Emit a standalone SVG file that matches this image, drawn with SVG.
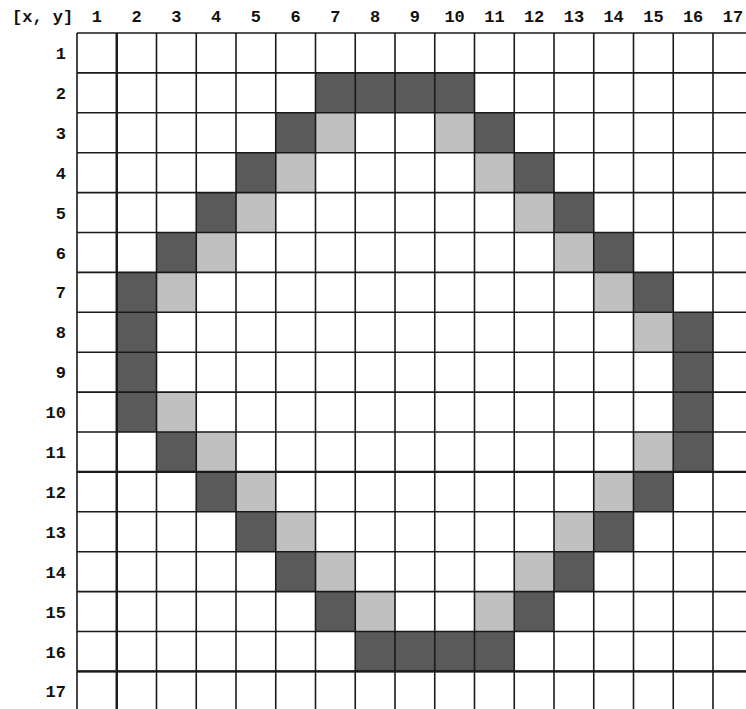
<svg xmlns="http://www.w3.org/2000/svg" width="746" height="709" viewBox="0 0 746 709">
<style>
.d{fill:#5a5a5a}
.l{fill:#c0c0c0}
.g{stroke:#1a1a1a;stroke-width:1.6;fill:none}
.t{font-family:"Liberation Mono","Courier New",monospace;font-weight:bold;font-size:17px;fill:#111}
.c{text-anchor:middle}
.r{text-anchor:end}
</style>
<rect width="746" height="709" fill="#fff"/>
<g id="cells">
<!-- row 2 -->
<rect class="d" x="315.5" y="72.9" width="159" height="39.9"/>
<!-- row 3 -->
<rect class="d" x="275.75" y="112.8" width="39.75" height="39.9"/>
<rect class="l" x="315.5" y="112.8" width="39.75" height="39.9"/>
<rect class="l" x="434.75" y="112.8" width="39.75" height="39.9"/>
<rect class="d" x="474.5" y="112.8" width="39.75" height="39.9"/>
<!-- row 4 -->
<rect class="d" x="236" y="152.7" width="39.75" height="39.9"/>
<rect class="l" x="275.75" y="152.7" width="39.75" height="39.9"/>
<rect class="l" x="474.5" y="152.7" width="39.75" height="39.9"/>
<rect class="d" x="514.25" y="152.7" width="39.75" height="39.9"/>
<!-- row 5 -->
<rect class="d" x="196.25" y="192.6" width="39.75" height="39.9"/>
<rect class="l" x="236" y="192.6" width="39.75" height="39.9"/>
<rect class="l" x="514.25" y="192.6" width="39.75" height="39.9"/>
<rect class="d" x="554" y="192.6" width="39.75" height="39.9"/>
<!-- row 6 -->
<rect class="d" x="156.5" y="232.5" width="39.75" height="39.9"/>
<rect class="l" x="196.25" y="232.5" width="39.75" height="39.9"/>
<rect class="l" x="554" y="232.5" width="39.75" height="39.9"/>
<rect class="d" x="593.75" y="232.5" width="39.75" height="39.9"/>
<!-- row 7 -->
<rect class="d" x="116.75" y="272.4" width="39.75" height="39.9"/>
<rect class="l" x="156.5" y="272.4" width="39.75" height="39.9"/>
<rect class="l" x="593.75" y="272.4" width="39.75" height="39.9"/>
<rect class="d" x="633.5" y="272.4" width="39.75" height="39.9"/>
<!-- rows 8-10 left column -->
<rect class="d" x="116.75" y="312.3" width="39.75" height="119.7"/>
<!-- row 8 right -->
<rect class="l" x="633.5" y="312.3" width="39.75" height="39.9"/>
<!-- rows 8-11 right column -->
<rect class="d" x="673.25" y="312.3" width="39.75" height="159.6"/>
<!-- row 10 -->
<rect class="l" x="156.5" y="392.1" width="39.75" height="39.9"/>
<!-- row 11 -->
<rect class="d" x="156.5" y="432" width="39.75" height="39.9"/>
<rect class="l" x="196.25" y="432" width="39.75" height="39.9"/>
<rect class="l" x="633.5" y="432" width="39.75" height="39.9"/>
<!-- row 12 -->
<rect class="d" x="196.25" y="471.9" width="39.75" height="39.9"/>
<rect class="l" x="236" y="471.9" width="39.75" height="39.9"/>
<rect class="l" x="593.75" y="471.9" width="39.75" height="39.9"/>
<rect class="d" x="633.5" y="471.9" width="39.75" height="39.9"/>
<!-- row 13 -->
<rect class="d" x="236" y="511.8" width="39.75" height="39.9"/>
<rect class="l" x="275.75" y="511.8" width="39.75" height="39.9"/>
<rect class="l" x="554" y="511.8" width="39.75" height="39.9"/>
<rect class="d" x="593.75" y="511.8" width="39.75" height="39.9"/>
<!-- row 14 -->
<rect class="d" x="275.75" y="551.7" width="39.75" height="39.9"/>
<rect class="l" x="315.5" y="551.7" width="39.75" height="39.9"/>
<rect class="l" x="514.25" y="551.7" width="39.75" height="39.9"/>
<rect class="d" x="554" y="551.7" width="39.75" height="39.9"/>
<!-- row 15 -->
<rect class="d" x="315.5" y="591.6" width="39.75" height="39.9"/>
<rect class="l" x="355.25" y="591.6" width="39.75" height="39.9"/>
<rect class="l" x="474.5" y="591.6" width="39.75" height="39.9"/>
<rect class="d" x="514.25" y="591.6" width="39.75" height="39.9"/>
<!-- row 16 -->
<rect class="d" x="355.25" y="631.5" width="159" height="39.9"/>
</g>
<g id="grid" class="g">
<path d="M77 33V709M116.75 33V709M156.5 33V709M196.25 33V709M236 33V709M275.75 33V709M315.5 33V709M355.25 33V709M395 33V709M434.75 33V709M474.5 33V709M514.25 33V709M554 33V709M593.75 33V709M633.5 33V709M673.25 33V709M713 33V709"/>
<path d="M77 33H746M77 72.9H746M77 112.8H746M77 152.7H746M77 192.6H746M77 232.5H746M77 272.4H746M77 312.3H746M77 352.2H746M77 392.1H746M77 432H746M77 471.9H746M77 511.8H746M77 551.7H746M77 591.6H746M77 631.5H746M77 671.4H746"/>
<path d="M116.75 33V709M77 471.9H746M77 671.4H746" stroke-width="2.4"/>
</g>
<g id="labels" class="t">
<text x="12" y="22">[x, y]</text>
<g class="c">
<text x="96.9" y="22">1</text>
<text x="136.6" y="22">2</text>
<text x="176.4" y="22">3</text>
<text x="216.1" y="22">4</text>
<text x="255.9" y="22">5</text>
<text x="295.6" y="22">6</text>
<text x="335.4" y="22">7</text>
<text x="375.1" y="22">8</text>
<text x="414.9" y="22">9</text>
<text x="454.6" y="22">10</text>
<text x="494.4" y="22">11</text>
<text x="534.1" y="22">12</text>
<text x="573.9" y="22">13</text>
<text x="613.6" y="22">14</text>
<text x="653.4" y="22">15</text>
<text x="693.1" y="22">16</text>
<text x="732.9" y="22">17</text>
</g>
<g class="r">
<text x="66" y="59">1</text>
<text x="66" y="98.9">2</text>
<text x="66" y="138.8">3</text>
<text x="66" y="178.7">4</text>
<text x="66" y="218.6">5</text>
<text x="66" y="258.5">6</text>
<text x="66" y="298.4">7</text>
<text x="66" y="338.3">8</text>
<text x="66" y="378.2">9</text>
<text x="66" y="418.1">10</text>
<text x="66" y="458">11</text>
<text x="66" y="497.9">12</text>
<text x="66" y="537.8">13</text>
<text x="66" y="577.7">14</text>
<text x="66" y="617.6">15</text>
<text x="66" y="657.5">16</text>
<text x="66" y="697.4">17</text>
</g>
</g>
</svg>
